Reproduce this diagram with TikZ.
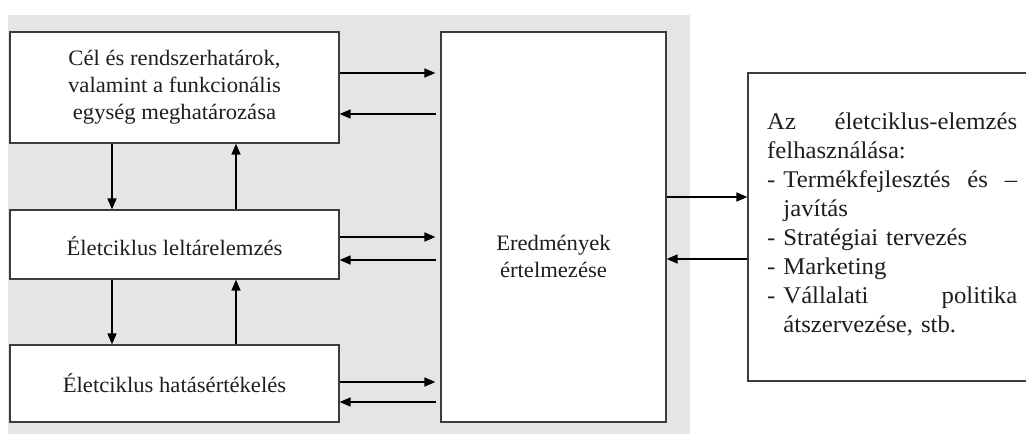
\documentclass[tikz,border=0pt]{standalone}
\usepackage{fontspec}
\setmainfont{Liberation Serif}[FakeStretch=1.03]
\usetikzlibrary{arrows.meta}
\definecolor{panel}{HTML}{E5E5E5}
\definecolor{edge}{HTML}{3C3C3C}
\definecolor{ink}{HTML}{1E1E1E}
\newlength{\uselinew}
\setlength{\uselinew}{250pt}
% a line spread over the full measure
\newcommand{\fullline}[1]{\leavevmode\hbox to \uselinew{#1}}
\newcommand{\gap}{\ \hfill}
\begin{document}
\begin{tikzpicture}[x=1pt,y=-1pt,
  box/.style={draw=edge, line width=1.2pt, fill=white, inner sep=0pt},
  flow/.style={draw=black, line width=1.6pt, -{Triangle[length=11pt,width=9pt]}},
  lbl/.style={font=\fontsize{22}{27}\selectfont, text=ink, align=center}]
\useasboundingbox (0,0) rectangle (1026,434);
% grey panel behind the left part
\fill[panel] (8,15) rectangle (690,434);
% boxes
\node[box, minimum width=329pt, minimum height=111pt] (goal) at (174.5,87.5) {};
\node[box, minimum width=329pt, minimum height=69pt] (inv) at (174.5,244.5) {};
\node[box, minimum width=329pt, minimum height=77pt] (imp) at (174.5,383.5) {};
\node[box, minimum width=225pt, minimum height=390pt] (interp) at (553.5,227) {};
\node[box, minimum width=290pt, minimum height=308pt] (use) at (893,227) {};
% texts
\node[lbl] (goalt) at (goal.center) {Cél és rendszerhatárok,\\valamint a funkcionális\\egység meghatározása};
\node[lbl] (invt) at ([yshift=-2pt]inv.center) {Életciklus leltárelemzés};
\node[lbl] (impt) at (imp.center) {Életciklus hatásértékelés};
\node[lbl] (interpt) at ([yshift=-29pt]interp.center) {Eredmények\\értelmezése};
\node[font=\fontsize{24}{29}\selectfont, text=ink, text width=\uselinew, align=left, anchor=north west, inner sep=0pt] (uset) at (767,113) {%
\fullline{Az\gap életciklus-elemzés}\\
felhasználása:\\
\fullline{- Termékfejlesztés\gap és\gap –}\\
\hphantom{- }javítás\\
- Stratégiai tervezés\\
- Marketing\\
\fullline{- Vállalati\gap politika}\\
\hphantom{- }átszervezése, stb.};
% rows of the horizontal arrows
\coordinate (h1) at (0,73);
\coordinate (h2) at (0,114);
\coordinate (h3) at (0,237);
\coordinate (h4) at (0,260);
\coordinate (h5) at (0,382);
\coordinate (h6) at (0,402);
\coordinate (h7) at (0,197);
\coordinate (h8) at (0,259);
% columns of the vertical arrows
\coordinate (vd) at (112,0);
\coordinate (vu) at (236,0);
% left boxes <-> interpretation
\draw[flow, shorten >=5pt] (goal.east |- h1) -- (interp.west |- h1);
\draw[flow, shorten <=4pt] (interp.west |- h2) -- (goal.east |- h2);
\draw[flow, shorten >=5pt] (inv.east |- h3) -- (interp.west |- h3);
\draw[flow, shorten <=4pt] (interp.west |- h4) -- (inv.east |- h4);
\draw[flow, shorten >=5pt] (imp.east |- h5) -- (interp.west |- h5);
\draw[flow, shorten <=4pt] (interp.west |- h6) -- (imp.east |- h6);
% vertical steps
\draw[flow] (vd |- goal.south) -- (vd |- inv.north);
\draw[flow] (vu |- inv.north) -- (vu |- goal.south);
\draw[flow] (vd |- inv.south) -- (vd |- imp.north);
\draw[flow] (vu |- imp.north) -- (vu |- inv.south);
% interpretation <-> applications
\draw[flow] (interp.east |- h7) -- (use.west |- h7);
\draw[flow] (use.west |- h8) -- (interp.east |- h8);
\end{tikzpicture}
\end{document}
